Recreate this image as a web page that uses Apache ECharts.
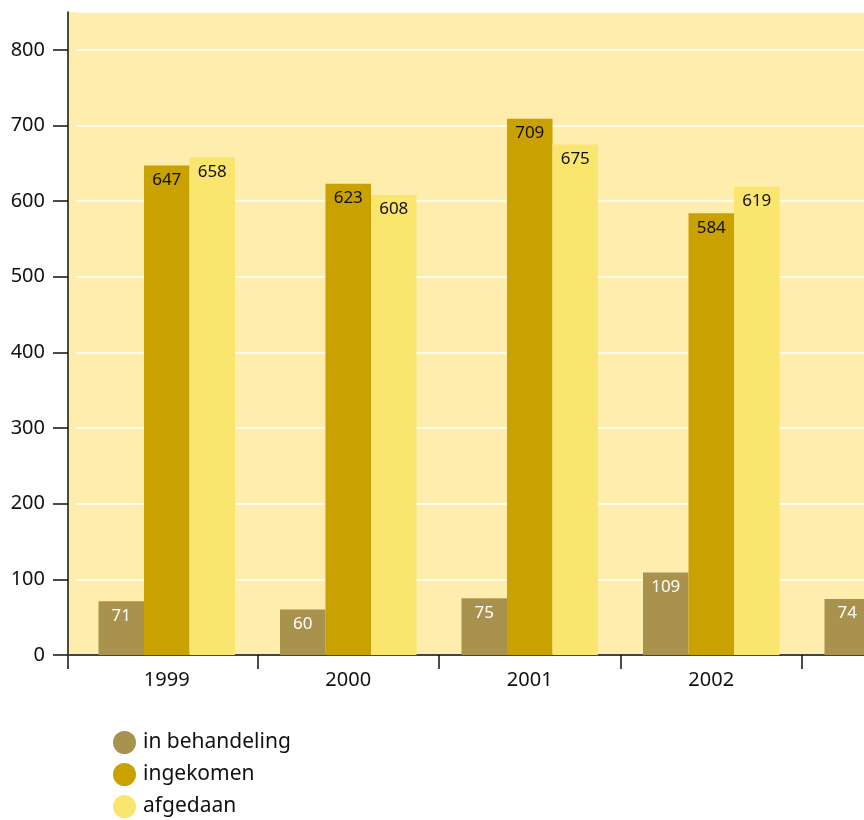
<!DOCTYPE html>
<html>
<head>
<meta charset="UTF-8">
<title></title>
<script src="https://cdn.jsdelivr.net/npm/echarts@6/dist/echarts.min.js"></script>
<style>
  html, body { margin: 0; padding: 0; background: #fff; }
</style>
</head>
<body>
<div id="main" style="width: 864px; height: 820px;"></div>
<script type="text/javascript">
var years = ['1999', '2000', '2001', '2002', '2003'];
var inBehandeling = [71, 60, 75, 109, 74];
var ingekomen = [647, 623, 709, 584, null];
var afgedaan = [658, 608, 675, 619, null];

var FONT = '"Noto Sans", "Open Sans", sans-serif';

var chart = echarts.init(document.getElementById('main'));

function barLabel(color) {
  return {
    show: true,
    position: 'insideTop',
    distance: 6,
    color: color,
    fontFamily: FONT,
    fontSize: 17
  };
}

var option = {
  animation: false,
  textStyle: { fontFamily: FONT },
  graphic: [
    // plot background
    { type: 'rect', z: -10, silent: true, shape: { x: 68, y: 12, width: 796, height: 643 }, style: { fill: '#feedad' } },
    // axis corner pieces
    { type: 'line', z: 10, silent: true, shape: { x1: 68, y1: 655, x2: 68, y2: 669 }, style: { stroke: '#111', lineWidth: 1.5 } },
    { type: 'line', z: 10, silent: true, shape: { x1: 68, y1: 655, x2: 77, y2: 655 }, style: { stroke: '#444', lineWidth: 2 } }
  ],
  grid: { left: 76, top: 12, width: 907.5, height: 643, outerBoundsMode: 'none' },
  legend: {
    orient: 'vertical',
    left: 113,
    top: 731,
    padding: 0,
    icon: 'circle',
    itemWidth: 23,
    itemHeight: 23,
    itemGap: 9,
    textStyle: { fontFamily: FONT, fontSize: 21, color: '#111', padding: [0, 0, 0, 2] },
    data: ['in behandeling', 'ingekomen', 'afgedaan']
  },
  xAxis: {
    type: 'category',
    data: years,
    boundaryGap: true,
    axisLine: { show: true, lineStyle: { color: '#444', width: 2 } },
    axisTick: {
      show: true,
      length: 14,
      interval: function (idx) { return idx > 0; },
      lineStyle: { color: '#111', width: 1.5 }
    },
    axisLabel: { color: '#111', fontSize: 20, fontFamily: FONT, margin: 15 },
    splitLine: { show: false }
  },
  yAxis: {
    type: 'value',
    min: 0,
    max: 850,
    interval: 100,
    offset: 8,
    axisLine: { show: true, lineStyle: { color: '#111', width: 1.5 } },
    axisTick: { show: true, length: 15, lineStyle: { color: '#111', width: 1.5 } },
    axisLabel: { color: '#111', fontSize: 20, fontFamily: FONT, margin: 23, showMaxLabel: false },
    splitLine: { show: true, lineStyle: { color: '#ffffff', width: 1.5 } }
  },
  series: [
    {
      name: 'in behandeling',
      type: 'bar',
      data: inBehandeling,
      barWidth: 45.5,
      barGap: '0%',
      itemStyle: { color: '#a8924e' },
      label: barLabel('#ffffff')
    },
    {
      name: 'ingekomen',
      type: 'bar',
      data: ingekomen,
      barWidth: 45.5,
      barGap: '0%',
      itemStyle: { color: '#c9a100' },
      label: barLabel('#111111')
    },
    {
      name: 'afgedaan',
      type: 'bar',
      data: afgedaan,
      barWidth: 45.5,
      barGap: '0%',
      itemStyle: { color: '#fae56e' },
      label: barLabel('#111111')
    }
  ]
};

chart.setOption(option);
</script>
</body>
</html>
